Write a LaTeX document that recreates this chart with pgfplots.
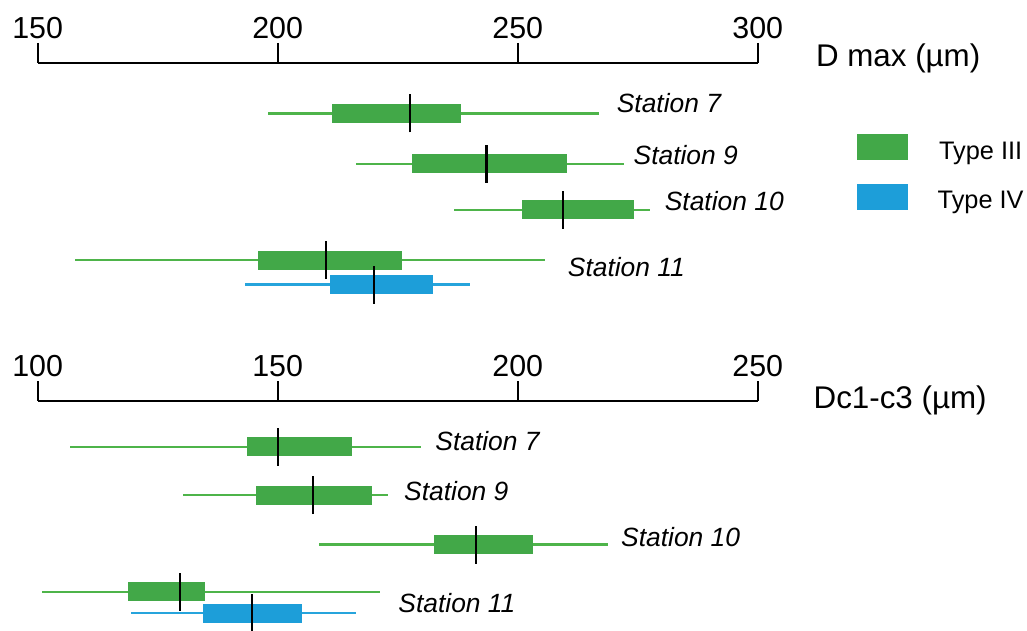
\documentclass[border=0pt]{standalone}
\usepackage{fontspec}
\setmainfont{Liberation Sans}
\usepackage{pgfplots}
\pgfplotsset{compat=1.18}
\usepgfplotslibrary{statistics}
\definecolor{gbox}{RGB}{66,168,72}
\definecolor{gwh}{RGB}{78,180,74}
\definecolor{bbox}{RGB}{29,158,217}
\definecolor{bwh}{RGB}{38,164,220}
\pgfplotsset{
  common/.style={
    x=3.6pt, y=0.75pt,
    axis x line*=top, hide y axis,
    axis line style={-, line width=1.8pt, black},
    tick align=outside, major tick length=15pt,
    tick style={black, line width=1.5pt},
    xticklabel style={font=\fontsize{22.8}{24}\selectfont, anchor=south, inner sep=0pt, yshift=3pt},
    /pgf/number format/assume math mode=true,
    clip=false,
    boxplot/draw direction=x,
    boxplot/box extend=19,
    boxplot/whisker extend=0,
    boxplot/every median/.style={black, line width=1.8pt},
    boxplot/draw/median/.code={\draw[/pgfplots/boxplot/every median/.try]
      (boxplot box cs:\pgfplotsboxplotvalue{median},-0.5) --
      (boxplot box cs:\pgfplotsboxplotvalue{median},1.5);},
    boxplot/draw/lower whisker/.code={\draw[/pgfplots/boxplot/every whisker/.try]
      (boxplot cs:\pgfplotsboxplotvalue{lower quartile}) --
      (boxplot cs:\pgfplotsboxplotvalue{lower whisker});},
    boxplot/draw/upper whisker/.code={\draw[/pgfplots/boxplot/every whisker/.try]
      (boxplot cs:\pgfplotsboxplotvalue{upper quartile}) --
      (boxplot cs:\pgfplotsboxplotvalue{upper whisker});},
  },
  tIII/.style={forget plot, boxplot/every box/.style={fill=gbox, draw=none},
    boxplot/every whisker/.style={gwh, line width=1.8pt}},
  tIV/.style={forget plot, boxplot/every box/.style={fill=bbox, draw=none},
    boxplot/every whisker/.style={bwh, line width=1.8pt}},
}
\newcommand{\stfont}{\fontsize{19.8}{21}\selectfont\itshape}
\newcommand{\axfont}{\fontsize{23.5}{25}\selectfont}
\begin{document}
\begin{tikzpicture}
\path[use as bounding box] (0,0) rectangle (770.25pt,-473.25pt);
% ---------------- D max ----------------
\begin{axis}[common,
  at={(28.275pt,-225pt)}, anchor=south west,
  xmin=150, xmax=300, ymin=-300, ymax=-63,
  xtick={150,200,250,300},
  legend style={draw=none, fill=none, inner sep=0pt, at={(1.138,0.700)}, anchor=north west,
    row sep=17pt, font=\fontsize{19}{20}\selectfont,
    /tikz/every odd column/.append style={column sep=22pt}, nodes={inner sep=0pt, yshift=-3pt}},
  legend image code/.code={\fill[#1] (0pt,-9.75pt) rectangle (38.25pt,9.75pt);},
]
\addplot[tIII, boxplot prepared={draw position=-113.5, lower whisker=197.9, lower quartile=211.4, median=227.6, upper quartile=238.2, upper whisker=266.9}] coordinates {};
\addplot[tIII, boxplot prepared={draw position=-164, lower whisker=216.3, lower quartile=228.0, median=243.5, upper quartile=260.3, upper whisker=272.1}] coordinates {};
\addplot[tIII, boxplot prepared={draw position=-209.8, lower whisker=236.8, lower quartile=250.8, median=259.4, upper quartile=274.3, upper whisker=277.6}] coordinates {};
\addplot[tIII, boxplot prepared={draw position=-260.2, lower whisker=157.8, lower quartile=195.8, median=210.1, upper quartile=225.9, upper whisker=255.7}] coordinates {};
\addplot[tIV, boxplot prepared={draw position=-284.5, lower whisker=193.1, lower quartile=210.8, median=220.1, upper quartile=232.3, upper whisker=240.1}] coordinates {};
\addlegendimage{fill=gbox, draw=none}
\addlegendentry{Type III}
\addlegendimage{fill=bbox, draw=none}
\addlegendentry{Type IV}
\node[anchor=base west, inner sep=0pt, font=\axfont] at (axis cs:312.1,-66.5) {D max (µm)};
\node[anchor=base west, inner sep=0pt, font=\stfont] at (axis cs:270.6,-112.5) {Station 7};
\node[anchor=base west, inner sep=0pt, font=\stfont] at (axis cs:274.1,-165) {Station 9};
\node[anchor=base west, inner sep=0pt, font=\stfont] at (axis cs:280.6,-210.5) {Station 10};
\node[anchor=base west, inner sep=0pt, font=\stfont] at (axis cs:260.4,-276.5) {Station 11};
\end{axis}
% ---------------- Dc1-c3 ----------------
\begin{axis}[common,
  at={(28.275pt,-473.25pt)}, anchor=south west,
  xmin=100, xmax=250, ymin=-631, ymax=-401,
  xtick={100,150,200,250},
]
\addplot[tIII, boxplot prepared={draw position=-446.7, lower whisker=106.7, lower quartile=143.5, median=150.0, upper quartile=165.5, upper whisker=179.8}] coordinates {};
\addplot[tIII, boxplot prepared={draw position=-495.2, lower whisker=130.3, lower quartile=145.4, median=157.4, upper quartile=169.7, upper whisker=173.0}] coordinates {};
\addplot[tIII, boxplot prepared={draw position=-544.5, lower whisker=158.7, lower quartile=182.6, median=191.3, upper quartile=203.1, upper whisker=218.9}] coordinates {};
\addplot[tIII, boxplot prepared={draw position=-591.7, lower whisker=100.8, lower quartile=118.8, median=129.6, upper quartile=134.9, upper whisker=171.3}] coordinates {};
\addplot[tIV, boxplot prepared={draw position=-613.2, lower whisker=119.4, lower quartile=134.5, median=144.6, upper quartile=155.1, upper whisker=166.3}] coordinates {};
\node[anchor=base west, inner sep=0pt, font=\axfont] at (axis cs:261.6,-408.3) {Dc1-c3 (µm)};
\node[anchor=base west, inner sep=0pt, font=\stfont] at (axis cs:182.8,-450.5) {Station 7};
\node[anchor=base west, inner sep=0pt, font=\stfont] at (axis cs:176.3,-500.5) {Station 9};
\node[anchor=base west, inner sep=0pt, font=\stfont] at (axis cs:221.5,-546.5) {Station 10};
\node[anchor=base west, inner sep=0pt, font=\stfont] at (axis cs:175.1,-612.5) {Station 11};
\end{axis}
\end{tikzpicture}
\end{document}
